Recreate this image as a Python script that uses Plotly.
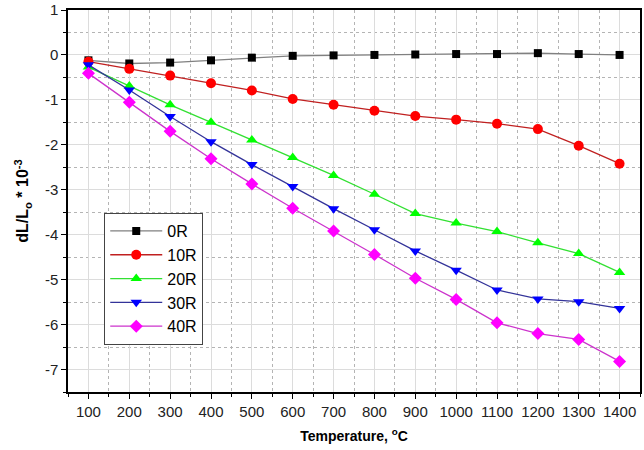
import plotly.graph_objects as go

temps = [100, 200, 300, 400, 500, 600, 700, 800, 900, 1000, 1100, 1200, 1300, 1400]
r0 = [-0.12, -0.19, -0.17, -0.12, -0.06, -0.02, -0.01, 0.0, 0.01, 0.02, 0.02, 0.04, 0.02, 0.0]
r10 = [-0.15, -0.31, -0.46, -0.63, -0.79, -0.98, -1.11, -1.24, -1.36, -1.44, -1.53, -1.65, -2.02, -2.42]
r20 = [-0.27, -0.69, -1.11, -1.5, -1.89, -2.28, -2.68, -3.1, -3.53, -3.74, -3.93, -4.18, -4.42, -4.84]
r30 = [-0.22, -0.78, -1.37, -1.93, -2.44, -2.93, -3.42, -3.89, -4.36, -4.79, -5.23, -5.43, -5.49, -5.64]
r40 = [-0.41, -1.05, -1.7, -2.31, -2.87, -3.41, -3.92, -4.44, -4.97, -5.44, -5.96, -6.2, -6.33, -6.82]
names = ["0R", "10R", "20R", "30R", "40R"]
yticks = [1, 0, -1, -2, -3, -4, -5, -6, -7]

series = [r0, r10, r20, r30, r40]
line_colors = ["#808080", "#c02020", "#33e033", "#333399", "#cc33cc"]
marker_colors = ["#000000", "#ff0000", "#00ff00", "#0000ff", "#ff00ff"]
symbols = ["square", "circle", "triangle-up", "triangle-down", "diamond"]
sizes = [8, 10, 10, 10, 10]

fig = go.Figure()
for n, s, lc, mc, sym, sz in zip(names, series, line_colors, marker_colors, symbols, sizes):
    fig.add_trace(go.Scatter(
        x=temps, y=s, name=n, mode="lines+markers",
        line=dict(color=lc, width=1.3),
        marker=dict(symbol=sym, size=sz, color=mc, line=dict(width=0)),
    ))

axis_common = dict(
    showline=True, linecolor="black", linewidth=1.5, mirror=True,
    ticks="outside", ticklen=5, tickwidth=1.3, tickcolor="black",
    showgrid=True, gridcolor="#dcdcdc", gridwidth=1, zeroline=False,
    automargin=False, ticklabeloverflow="allow",
    tickfont=dict(family="Liberation Sans, Arial", size=15, color="#222222"),
)

fig.update_xaxes(
    **axis_common,
    range=[50, 1450], tickmode="array", tickvals=temps, ticktext=[str(t) for t in temps],
    minor=dict(dtick=50, tick0=50, ticks="outside", ticklen=3, tickcolor="black",
               showgrid=True, gridcolor="#b4b4b4", griddash="dot", gridwidth=1),
    title=dict(text="Temperature, <sup>o</sup>C",
               font=dict(family="Liberation Sans, Arial", size=14, color="black", weight="bold"),
               standoff=12),
)
fig.update_yaxes(
    **axis_common,
    range=[-7.5, 1], tickmode="array", tickvals=yticks, ticktext=[str(v) for v in yticks],
    minor=dict(dtick=0.5, tick0=0.5, ticks="outside", ticklen=3, tickcolor="black",
               showgrid=True, gridcolor="#b4b4b4", griddash="dot", gridwidth=1),
    title=dict(text="dL/L<sub>o</sub> * 10<sup>-3</sup>",
               font=dict(family="Liberation Sans, Arial", size=16, color="black", weight="bold"),
               standoff=12),
)

fig.update_layout(
    width=644, height=450,
    margin=dict(l=68, r=4, t=10, b=58),
    paper_bgcolor="white", plot_bgcolor="white",
    showlegend=True,
    legend=dict(x=0.063, y=0.469, xanchor="left", yanchor="top",
                bgcolor="white", bordercolor="#444444", borderwidth=1.2,
                font=dict(family="Liberation Sans, Arial", size=16, color="black"),
                tracegroupgap=0, itemwidth=52),
)

# remove the default page margin so the figure fills the window exactly
fig.write_html("out.html",
               config={"displayModeBar": False},
               post_script="document.body.style.margin='0';document.body.style.overflow='hidden';")
